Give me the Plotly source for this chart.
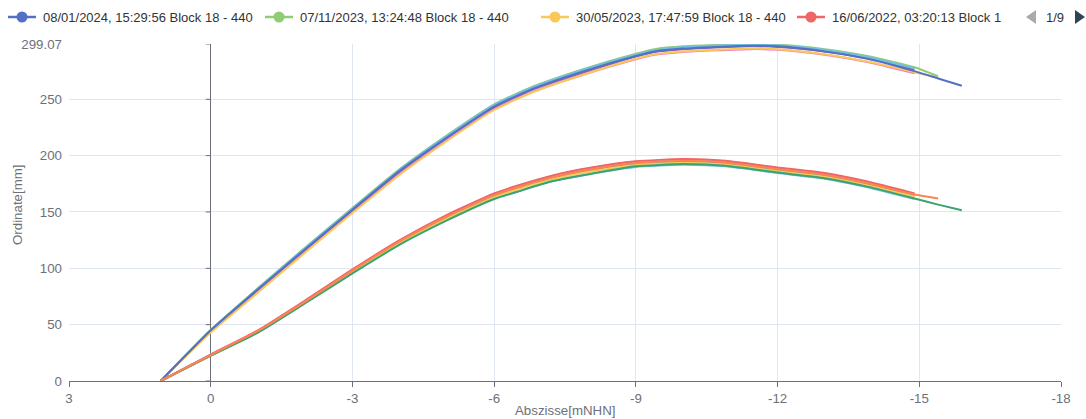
import plotly.graph_objects as go

# ---- profile data -------------------------------------------------------
# abscissa stations (mNHN) shared by the series of each profile bundle
upper_x = [1.06, 0, -1, -2, -3, -4, -5, -6, -6.8, -7.9, -9.0, -9.4, -10, -11.4, -12, -13, -13.9, -14.9]
lower_x = [1.06, 0, -1, -2, -3, -4, -5, -6, -6.5, -7.2, -8, -9, -10, -10.9, -12, -13, -13.9, -14.9]
tail_x = [-15.4, -15.9]

# series in drawing order (later ones are painted on top)
series_names = [
    "Messung 9 Block 18 - 440",
    "Messung 8 Block 18 - 440",
    "30/05/2023, 17:47:59 Block 18 - 440",
    "07/11/2023, 13:24:48 Block 18 - 440",
    "Messung 5 Block 18 - 440",
    "08/01/2024, 15:29:56 Block 18 - 440",
    "Messung 14 Block 18 - 440",
    "Messung 10 Block 18 - 440",
    "Messung 11 Block 18 - 440",
    "Messung 12 Block 18 - 440",
    "Messung 13 Block 18 - 440",
    "16/06/2022, 03:20:13 Block 18 - 440",
    "Messung 6 Block 18 - 440",
    "Messung 7 Block 18 - 440",
]
series_bundle = ["upper", "upper", "upper", "upper", "upper", "upper",
                 "lower", "lower", "lower", "lower", "lower", "lower", "lower", "lower"]
series_colors = ["#ea7ccc", "#9a60b4", "#fac858", "#91cc75", "#73c0de", "#5470c6",
                 "#73c0de", "#5470c6", "#91cc75", "#fac858", "#ea7ccc", "#ee6666",
                 "#3ba272", "#fc8452"]

# ordinate values (mm)
y_up_pink = [0, 44, 80, 115.5, 150.5, 184.5, 214, 241.5, 256.5, 272, 285.5, 289.5, 292, 294.5, 294, 289.5, 283, 273]
y_up_purple = [0, 44.5, 81, 116.5, 151.5, 186, 216, 243, 258.5, 274, 288, 292, 294.5, 297, 296.5, 292.5, 286.5, 276.5]
y_up_yellow = [0, 43, 78.5, 114, 149, 183, 213, 240.5, 256, 272, 286, 290, 292.5, 295, 294.5, 290, 283.5, 274, 269]
y_up_green = [0, 45.5, 82.5, 118.5, 153.5, 188, 218, 245.5, 261, 277, 290.5, 294.5, 297, 299.07, 298.6, 294.5, 288.5, 278.5, 270.5]
y_up_cyan = [0, 45, 82, 118, 153, 187.5, 217.5, 245, 260.5, 276.5, 289.5, 293.5, 296.5, 298.5, 298, 294, 287.5, 277.5]
y_up_blue = [0, 45, 81.5, 117, 152, 186.5, 216, 243.5, 259, 275, 288.5, 292.5, 295, 297.5, 297, 292.5, 286, 275, 268.5, 262]

y_lo_cyan = [0, 22.5, 43.5, 69.5, 96, 121.5, 143, 162, 168.5, 177, 183.5, 190, 192, 190.5, 184.5, 179.5, 172, 161.5]
y_lo_blue = [0, 23, 44, 70, 97.5, 123, 145, 164, 171, 179.5, 186.5, 192.5, 194.5, 193, 187, 182, 174.5, 164.5]
y_lo_green = [0, 23, 44, 70, 97, 122.5, 144.5, 163.5, 170.5, 179, 186, 192, 194, 192.5, 186.5, 181.5, 174, 164]
y_lo_yellow = [0, 22.5, 43.5, 69.5, 96.5, 122, 144, 163, 170, 178.5, 185.5, 191.5, 193.5, 192, 186, 181, 173.5, 163.5]
y_lo_pink = [0, 23.5, 44.5, 71, 98.5, 124.5, 147, 166, 173, 181.5, 188.5, 194.5, 196.5, 195, 189, 184, 176.5, 166]
y_lo_red = [0, 23.5, 45, 71.5, 99, 125, 147.5, 166.5, 173.5, 182, 189, 195, 197, 195.5, 189.5, 184.5, 177, 166.5]
y_lo_dkgreen = [0, 22.5, 43, 69, 95.5, 121, 142.5, 161.5, 168, 177, 183.5, 190.5, 192.5, 191, 185, 180, 172.5, 162, 156.5, 151.5]
y_lo_orange = [0, 23, 44.5, 70.5, 98, 124, 146, 165, 172, 180.5, 187.5, 193.5, 195.5, 194, 188, 183, 175.5, 165.5, 162]

series_y = [y_up_pink, y_up_purple, y_up_yellow, y_up_green, y_up_cyan, y_up_blue,
            y_lo_cyan, y_lo_blue, y_lo_green, y_lo_yellow, y_lo_pink, y_lo_red,
            y_lo_dkgreen, y_lo_orange]

# legend row: first page of the series list
legend_series = [5, 3, 2, 11]
legend_page = "1/9"

x_ticks = [3, 0, -3, -6, -9, -12, -15, -18]
y_ticks = [0, 50, 100, 150, 200, 250, 299.07]
y_tick_text = ["0", "50", "100", "150", "200", "250", "299.07"]

# ---- layout geometry (pixels) -----------------------------------------
W, H = 1086, 419
ML, MR, MT, MB = 69, 25, 44, 38
PW, PH = W - ML - MR, H - MT - MB

FONT = "Liberation Sans, Arial, Helvetica, sans-serif"
AXIS_COLOR = "#6e7079"
GRID_COLOR = "#e0e6f1"
FS = 13.3
LEGEND_FS = 13


def px(xp):
    return (xp - ML) / PW


def py(yp):
    return (H - MB - yp) / PH


fig = go.Figure()

for i, ys in enumerate(series_y):
    base = upper_x if series_bundle[i] == "upper" else lower_x
    xs = base + tail_x[: len(ys) - len(base)]
    fig.add_trace(go.Scatter(
        x=xs, y=ys, mode="lines", name=series_names[i],
        line=dict(color=series_colors[i], width=2, shape="spline", smoothing=0.5),
        showlegend=False,
    ))

shapes = []
annotations = []

# small tick marks on the vertical axis line at abscissa 0
for v in y_ticks:
    shapes.append(dict(type="line", xref="x", yref="y", xsizemode="pixel", xanchor=0,
                       x0=-5, x1=0, y0=v, y1=v,
                       line=dict(color=AXIS_COLOR, width=1), layer="above"))

# legend row
legend_sym_x = [8, 265, 541, 797]
legend_y = 17
for k, si in enumerate(legend_series):
    c = series_colors[si]
    x0 = legend_sym_x[k]
    shapes.append(dict(type="line", xref="paper", yref="paper",
                       x0=px(x0), x1=px(x0 + 28), y0=py(legend_y), y1=py(legend_y),
                       line=dict(color=c, width=2.5)))
    shapes.append(dict(type="circle", xref="paper", yref="paper",
                       xsizemode="pixel", ysizemode="pixel",
                       xanchor=px(x0 + 14), yanchor=py(legend_y),
                       x0=-5.5, x1=5.5, y0=-5.5, y1=5.5,
                       fillcolor=c, line=dict(color=c, width=0)))
    name = series_names[si]
    label = name if k < len(legend_series) - 1 else name[:28]
    annotations.append(dict(xref="paper", yref="paper", x=px(x0 + 33), y=py(legend_y),
                            xanchor="left", yanchor="middle", showarrow=False,
                            text=label, font=dict(family=FONT, size=LEGEND_FS, color="#333333")))

# page arrows and counter
shapes.append(dict(type="path", xref="paper", yref="paper",
                   xsizemode="pixel", ysizemode="pixel",
                   xanchor=px(1031), yanchor=py(legend_y),
                   path="M 5 7 L 5 -7 L -5 0 Z",
                   fillcolor="#aaaaaa", line=dict(width=0)))
shapes.append(dict(type="path", xref="paper", yref="paper",
                   xsizemode="pixel", ysizemode="pixel",
                   xanchor=px(1080), yanchor=py(legend_y),
                   path="M -5 7 L -5 -7 L 5 0 Z",
                   fillcolor="#2f4554", line=dict(width=0)))
annotations.append(dict(xref="paper", yref="paper", x=px(1055), y=py(legend_y),
                        xanchor="center", yanchor="middle", showarrow=False,
                        text=legend_page, font=dict(family=FONT, size=LEGEND_FS, color="#333333")))

# axis titles
annotations.append(dict(xref="paper", yref="paper", x=0.5, y=py(410),
                        xanchor="center", yanchor="middle", showarrow=False,
                        text="Abszisse[mNHN]", font=dict(family=FONT, size=FS, color=AXIS_COLOR)))
annotations.append(dict(xref="paper", yref="paper", x=px(18), y=py(205),
                        xanchor="center", yanchor="middle", showarrow=False, textangle=-90,
                        text="Ordinate[mm]", font=dict(family=FONT, size=FS, color=AXIS_COLOR)))

fig.update_layout(
    width=W, height=H,
    margin=dict(l=ML, r=MR, t=MT, b=MB),
    paper_bgcolor="white", plot_bgcolor="white",
    font=dict(family=FONT, size=FS, color=AXIS_COLOR),
    showlegend=False,
    shapes=shapes,
    annotations=annotations,
    xaxis=dict(
        range=[3, -18], tickvals=x_ticks, ticktext=[str(v) for v in x_ticks],
        showgrid=True, gridcolor=GRID_COLOR, gridwidth=1,
        zeroline=True, zerolinecolor=AXIS_COLOR, zerolinewidth=1,
        showline=True, linecolor=AXIS_COLOR, linewidth=1,
        ticks="outside", ticklen=5, tickcolor=AXIS_COLOR,
        tickfont=dict(family=FONT, size=FS, color=AXIS_COLOR),
        fixedrange=True,
    ),
    yaxis=dict(
        range=[0, 299.07], tickvals=y_ticks, ticktext=y_tick_text,
        showgrid=True, gridcolor=GRID_COLOR, gridwidth=1,
        zeroline=False, showline=False, ticks="",
        ticklabelstandoff=6,
        tickfont=dict(family=FONT, size=FS, color=AXIS_COLOR),
        fixedrange=True,
    ),
)

fig.write_html("out.html")
